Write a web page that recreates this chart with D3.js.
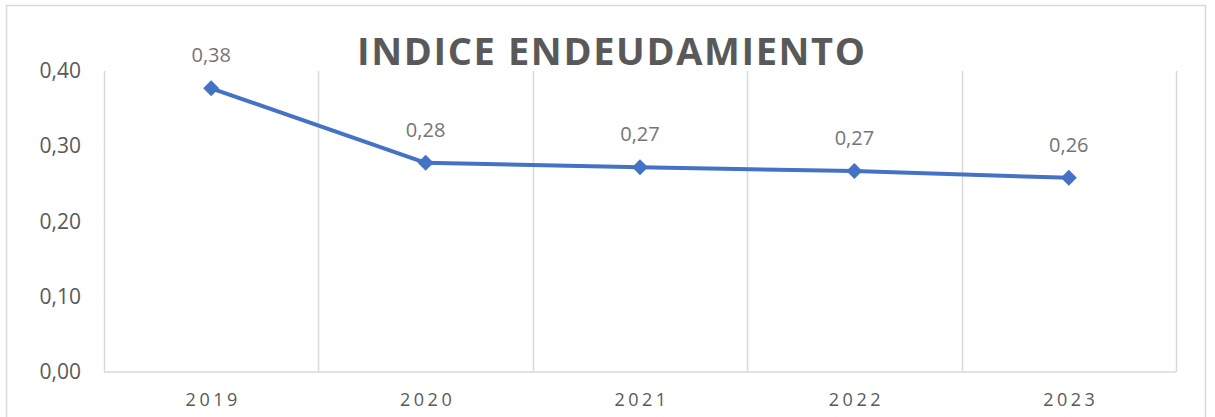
<!DOCTYPE html>
<html>
<head>
<meta charset="utf-8">
<script src="https://cdn.jsdelivr.net/npm/d3@7"></script>
<style>
  body { margin: 0; background: #fff; }
  svg { display: block; font-family: "Open Sans", sans-serif; }
</style>
</head>
<body>
<div id="chart"></div>
<script>
const years = ["2019", "2020", "2021", "2022", "2023"];
const values = [0.377, 0.278, 0.272, 0.267, 0.258];
const yTicks = [0, 0.1, 0.2, 0.3, 0.4];
const title = "INDICE ENDEUDAMIENTO";

const width = 1215, height = 417;
const margin = { top: 71, right: 39, bottom: 45, left: 104 };

const svg = d3.select("#chart").append("svg")
  .attr("width", width)
  .attr("height", height);

// chart border
svg.append("rect")
  .attr("x", 6.5).attr("y", 5.5)
  .attr("width", 1199).attr("height", 420)
  .attr("fill", "none")
  .attr("stroke", "#d9d9d9")
  .attr("stroke-width", 1.5);

const x = d3.scaleBand().domain(years).range([margin.left, width - margin.right]);
const y = d3.scaleLinear().domain([0, 0.4]).range([height - margin.bottom, margin.top]);

const fmt = v => d3.format(".2f")(v).replace(".", ",");

// vertical gridlines at category boundaries
const bounds = years.map(d => x(d)).concat([x(years[years.length - 1]) + x.bandwidth()]);
svg.append("g")
  .selectAll("line")
  .data(bounds)
  .join("line")
  .attr("x1", d => Math.round(d) + 0.5).attr("x2", d => Math.round(d) + 0.5)
  .attr("y1", y(0.4)).attr("y2", y(0))
  .attr("stroke", "#d9d9d9")
  .attr("stroke-width", 1.5);

// x axis line
svg.append("line")
  .attr("x1", x.range()[0]).attr("x2", x.range()[1])
  .attr("y1", y(0)).attr("y2", y(0))
  .attr("stroke", "#d9d9d9")
  .attr("stroke-width", 1.5);

// y labels
svg.append("g")
  .selectAll("text")
  .data(yTicks)
  .join("text")
  .attr("x", 81)
  .attr("y", d => y(d) + 7)
  .attr("text-anchor", "end")
  .attr("font-size", 21)
  .attr("fill", "#595959")
  .text(fmt);

// x labels
svg.append("g")
  .selectAll("text")
  .data(years)
  .join("text")
  .attr("x", d => x(d) + x.bandwidth() / 2 + 2)
  .attr("y", 406)
  .attr("text-anchor", "middle")
  .attr("font-size", 18)
  .attr("letter-spacing", "3.5px")
  .attr("fill", "#595959")
  .text(d => d);

// title
svg.append("text")
  .attr("x", 611)
  .attr("y", 65)
  .attr("text-anchor", "middle")
  .attr("font-size", 38)
  .attr("font-weight", "bold")
  .attr("fill", "#595959")
  .attr("textLength", 508)
  .attr("lengthAdjust", "spacing")
  .text(title);

const pts = years.map((d, i) => ({ year: d, v: values[i] }));
const cx = d => x(d.year) + x.bandwidth() / 2;

const line = d3.line()
  .x(cx)
  .y(d => y(d.v));

svg.append("path")
  .datum(pts)
  .attr("fill", "none")
  .attr("stroke", "#4472c4")
  .attr("stroke-width", 4)
  .attr("stroke-linejoin", "round")
  .attr("d", line);

svg.append("g")
  .selectAll("path")
  .data(pts)
  .join("path")
  .attr("transform", d => "translate(" + cx(d) + "," + y(d.v) + ")")
  .attr("d", "M0,-8L8,0L0,8L-8,0Z")
  .attr("fill", "#4472c4");

// data labels
svg.append("g")
  .selectAll("text")
  .data(pts)
  .join("text")
  .attr("x", cx)
  .attr("y", d => y(d.v) - 26)
  .attr("text-anchor", "middle")
  .attr("font-size", 20)
  .attr("fill", "#757575")
  .text(d => fmt(d.v));
</script>
</body>
</html>
